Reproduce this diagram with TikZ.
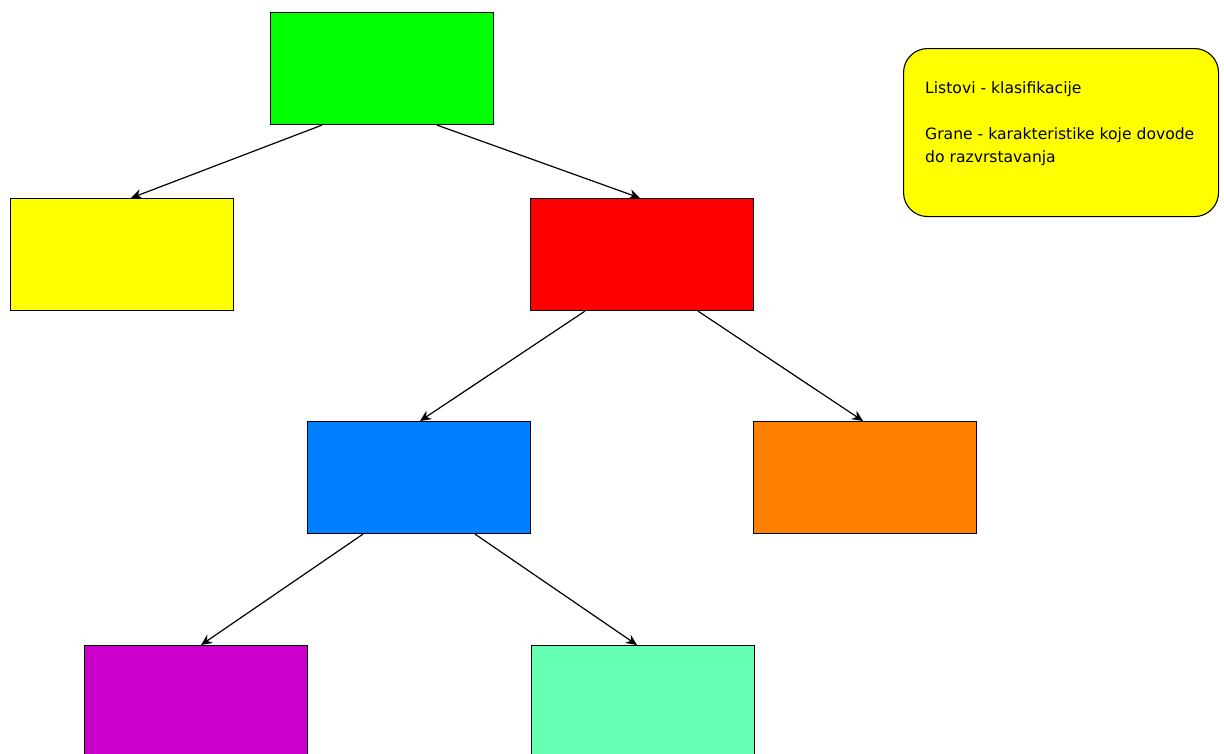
\documentclass[tikz,border=0pt]{standalone}
\usepackage{fontspec}
\setmainfont{DejaVu Sans}
\usetikzlibrary{arrows.meta}
\definecolor{cgreen}{HTML}{00FF00}
\definecolor{cyellow}{HTML}{FFFF00}
\definecolor{cred}{HTML}{FF0000}
\definecolor{cblue}{HTML}{007FFF}
\definecolor{corange}{HTML}{FF8000}
\definecolor{cpurple}{HTML}{CC00CC}
\definecolor{cteal}{HTML}{66FFB3}
\tikzset{
  box/.style={draw=black, line width=1.1pt, minimum width=223pt, minimum height=112pt, inner sep=0pt, anchor=north west},
  link/.style={draw=black, line width=1.2pt, -{Stealth[length=11pt,width=10pt]}},
  notetext/.style={anchor=west, inner sep=0pt, font=\fontsize{15.6pt}{18pt}\selectfont, text=black},
}
\begin{document}
\begin{tikzpicture}[x=1pt,y=-1pt]
\useasboundingbox (0,0) rectangle (1224,753);
\clip (0,0) rectangle (1224,753);
\fill[white] (0,0) rectangle (1224,753);
\node[box, fill=cgreen] (g) at (270,12) {};
\node[box, fill=cyellow] (y) at (10,198) {};
\node[box, fill=cred] (r) at (530,198) {};
\node[box, fill=cblue] (b) at (307,421) {};
\node[box, fill=corange] (o) at (753,421) {};
\node[box, fill=cpurple, minimum height=120pt] (p) at (84,645) {};
\node[box, fill=cteal, minimum height=120pt] (t) at (531,645) {};
\node[draw=black, line width=1.1pt, fill=cyellow, rounded corners=24pt, minimum width=315pt, minimum height=168pt, anchor=north west, inner sep=0pt] (n) at (903,48) {};
\node[notetext] (n1) at (925,89) {Listovi - klasifikacije};
\node[notetext] (n2) at (925,135) {Grane - karakteristike koje dovode};
\node[notetext] (n3) at (925,158) {do razvrstavanja};
\draw[link] ([xshift=52pt]g.south west) -- ([xshift=121pt]y.north west);
\draw[link] ([xshift=167pt]g.south west) -- ([xshift=110pt]r.north west);
\draw[link] ([xshift=55pt]r.south west) -- ([xshift=113pt]b.north west);
\draw[link] ([xshift=168pt]r.south west) -- ([xshift=110pt]o.north west);
\draw[link] ([xshift=56pt]b.south west) -- ([xshift=117pt]p.north west);
\draw[link] ([xshift=168pt]b.south west) -- ([xshift=106pt]t.north west);
\end{tikzpicture}
\end{document}
